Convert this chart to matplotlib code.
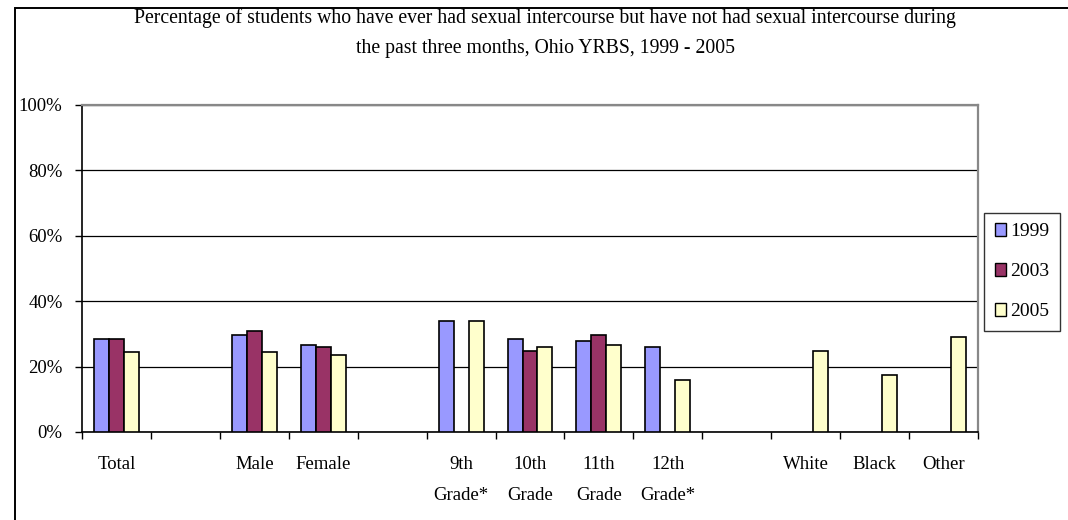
import numpy as np
import matplotlib
matplotlib.use("Agg")
import matplotlib.pyplot as plt
from matplotlib.patches import Rectangle, Patch
from matplotlib.ticker import FixedLocator, PercentFormatter

nan = np.nan

categories = ["Total", "", "Male", "Female", "",
              "9th\nGrade*", "10th\nGrade", "11th\nGrade", "12th\nGrade*", "",
              "White", "Black", "Other"]
years = ["1999", "2003", "2005"]
y1999 = [28.5, nan, 29.7, 26.7, nan, 33.8, 28.4, 27.9, 25.9, nan, nan, nan, nan]
y2003 = [28.5, nan, 30.8, 25.9, nan, nan, 24.7, 29.7, nan, nan, nan, nan, nan]
y2005 = [24.3, nan, 24.3, 23.5, nan, 33.8, 25.9, 26.7, 15.8, nan, 24.7, 17.5, 29.0]
colors = ["#9999FF", "#993366", "#FFFFCC"]

title = ("Percentage of students who have ever had sexual intercourse but have not had sexual intercourse during\n"
         "the past three months, Ohio YRBS, 1999 - 2005")

plt.rcParams["font.family"] = ["Liberation Serif", "DejaVu Serif"]

W, H = 1068, 520
fig = plt.figure(figsize=(W / 100, H / 100), dpi=100)

# outer chart border (left and top edges visible)
fig.patches.append(Rectangle((15 / W, -0.05), 1.2, (H - 8) / H + 0.05,
                             transform=fig.transFigure, fill=False,
                             edgecolor="black", linewidth=1.4))

left, right, top, bottom = 82, 978, 104.7, 432
ax = fig.add_axes([left / W, (H - bottom) / H, (right - left) / W, (bottom - top) / H])

x = np.arange(len(categories))
bw = 0.217
for k, (vals, c, lab) in enumerate(zip([y1999, y2003, y2005], colors, years)):
    ax.bar(x + (k - 1) * bw, vals, width=bw, color=c, edgecolor="black",
           linewidth=1.2, label=lab, zorder=3)

ax.set_xlim(-0.5, len(categories) - 0.5)
ax.set_ylim(0, 100)
ax.yaxis.set_major_locator(FixedLocator([0, 20, 40, 60, 80, 100]))
ax.yaxis.set_major_formatter(PercentFormatter(decimals=0))
ax.grid(axis="y", color="black", linewidth=0.9, zorder=0)

ax.xaxis.set_major_locator(FixedLocator(np.arange(len(categories) + 1) - 0.5))
ax.xaxis.set_minor_locator(FixedLocator(x))
ax.set_xticklabels([], minor=False)
ax.set_xticklabels(categories, minor=True, fontsize=13.5, linespacing=2.05)
ax.tick_params(axis="x", which="major", direction="out", length=5, width=1, color="black")
ax.tick_params(axis="x", which="minor", length=0, pad=17.5)
ax.tick_params(axis="y", direction="out", length=5, width=1, labelsize=13.5, pad=9)

for s in ["left", "bottom"]:
    ax.spines[s].set_color("black")
    ax.spines[s].set_linewidth(1.2)
for s in ["top", "right"]:
    ax.spines[s].set_color("#888888")
    ax.spines[s].set_linewidth(1.6)

fig.text(545 / W, 1 - 33 / H, title, ha="center", va="center",
         fontsize=14.2, linespacing=1.85)

handles = [Patch(facecolor=c, edgecolor="black", linewidth=1.0) for c in colors]
leg = fig.legend(handles, years, loc="upper left",
                 bbox_to_anchor=(984 / W, 1 - 212.7 / H),
                 frameon=True, fancybox=False, fontsize=14,
                 handlelength=0.6, handleheight=0.6, handletextpad=0.2,
                 labelspacing=1.18, borderpad=0.55, borderaxespad=0)
leg.get_frame().set_edgecolor("black")
leg.get_frame().set_linewidth(1.0)

fig.savefig("out.png", dpi=100)
